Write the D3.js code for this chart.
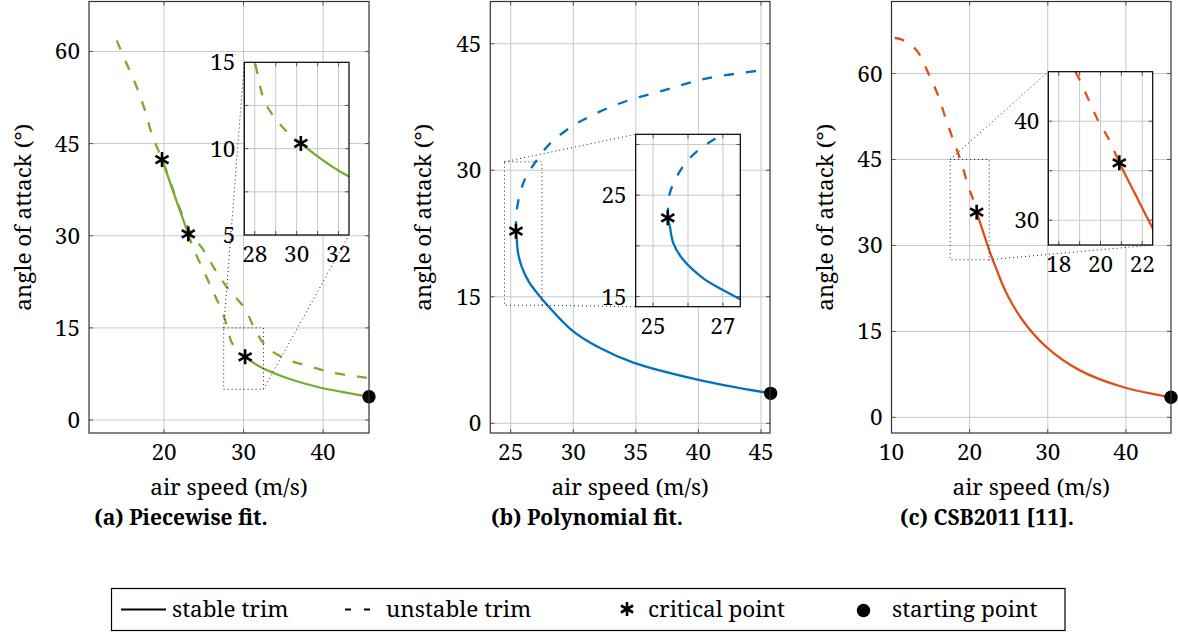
<!DOCTYPE html>
<html>
<head>
<meta charset="utf-8">
<script src="https://cdn.jsdelivr.net/npm/d3@7"></script>
<style>
  body { margin: 0; background: #fff; }
</style>
</head>
<body>
<div id="chart"></div>
<script>
// ---- data (air speed m/s, angle of attack deg) ----
var aUnstableHigh = [[14.05,61.8],[15.3,58.0],[16.57,54.2],[17.6,50.4],[18.45,46.6],[19.08,44.5],[19.75,42.5],[21.0,38.0],[22.0,34.4],[23.3,30.6],[24.95,27.7],[26.6,24.1],[28.1,21.3],[30.2,18.1],[31.3,15.1],[32.9,11.9],[35.4,9.9],[38.4,8.7],[41.3,7.7],[44.4,7.05],[45.5,6.85]];
var aStableHigh = [[19.75,42.4],[21.4,36.3],[23.05,30.3]];
var aUnstableMid = [[23.05,30.3],[23.7,27.9],[24.95,24.4],[26.2,20.8],[27.2,18.0],[28.0,15.0],[28.48,12.7],[29.11,11.56],[29.6,10.9],[30.2,10.3]];
var aStableLow = [[30.2,10.3],[32.07,8.67],[35.0,7.05],[39.2,5.42],[43.4,4.34],[45.77,3.8]];
var aCritical = [[19.75,42.4],[23.05,30.3],[30.2,10.3]];
var aStart = [[45.77,3.8]];

var bStable = [[25.42,22.77],[25.48,21.9],[25.58,20.25],[25.87,18.6],[26.44,16.8],[27.0,15.65],[27.5,14.73],[30.0,10.9],[32.1,8.95],[34.8,7.2],[40.1,5.13],[45.77,3.55]];
var bUnstable = [[25.42,22.77],[25.48,25.2],[25.82,27.65],[26.25,29.3],[26.96,30.93],[28.1,33.1],[29.9,35.2],[31.5,36.5],[33.3,37.7],[35.1,38.6],[37.1,39.4],[38.9,40.2],[40.7,40.9],[44.8,41.8]];
var bCritical = [[25.42,22.77]];
var bStart = [[45.77,3.55]];

var cUnstable = [[10.4,66.2],[11.2,66.0],[12.3,65.1],[13.3,63.9],[14.7,60.1],[16.0,56.05],[16.9,52.3],[17.9,48.4],[18.9,44.6],[19.88,40.1],[20.37,38.3],[20.9,35.8]];
var cStable = [[20.9,35.8],[21.6,32.9],[22.5,29.2],[23.5,25.6],[24.7,21.7],[26.8,16.9],[29.8,12.3],[34.1,8.2],[39.6,5.3],[45.77,3.5]];
var cCritical = [[20.9,35.8]];
var cStart = [[45.77,3.5]];

var captions = ["(a) Piecewise fit.", "(b) Polynomial fit.", "(c) CSB2011 [11]."];
var legendLabels = ["stable trim", "unstable trim", "critical point", "starting point"];

var green = "#77ac30", blue = "#0072bd", orange = "#d95319";
var FONT = "'Noto Serif', 'DejaVu Serif', serif";

var svg = d3.select("#chart").append("svg")
    .attr("width", 1178).attr("height", 634);

function font(sel, size) {
  return sel.style("font-family", FONT).style("font-size", size + "px").attr("fill", "#000");
}

var clipId = 0;

function asterisk(g, x, y, r) {
  [90, 30, 150].forEach(function(a) {
    var t = a * Math.PI / 180;
    g.append("line")
      .attr("x1", x - r * Math.cos(t)).attr("y1", y - r * Math.sin(t))
      .attr("x2", x + r * Math.cos(t)).attr("y2", y + r * Math.sin(t))
      .attr("stroke", "#000").attr("stroke-width", 2.6);
  });
}

// one axes box: grid, curves, markers, frame, tick labels
function drawAxes(cfg) {
  var g = svg.append("g");
  var x = d3.scaleLinear().domain(cfg.xDomain).range([cfg.left, cfg.right]);
  var y = d3.scaleLinear().domain(cfg.yDomain).range([cfg.bottom, cfg.top]);

  if (cfg.inset) {
    g.append("rect").attr("x", cfg.left).attr("y", cfg.top)
      .attr("width", cfg.right - cfg.left).attr("height", cfg.bottom - cfg.top)
      .attr("fill", "#fff");
  }

  g.selectAll(".vg").data(cfg.xGrid).enter().append("line")
    .attr("x1", x).attr("x2", x).attr("y1", cfg.top).attr("y2", cfg.bottom)
    .attr("stroke", "#c8c8c8").attr("stroke-width", 1);
  g.selectAll(".hg").data(cfg.yGrid).enter().append("line")
    .attr("y1", y).attr("y2", y).attr("x1", cfg.left).attr("x2", cfg.right)
    .attr("stroke", "#c8c8c8").attr("stroke-width", 1);

  // small inner ticks on all sides
  var tl = 4, tc = "#555";
  cfg.xGrid.forEach(function(v) {
    g.append("line").attr("x1", x(v)).attr("x2", x(v)).attr("y1", cfg.bottom).attr("y2", cfg.bottom - tl).attr("stroke", tc);
    g.append("line").attr("x1", x(v)).attr("x2", x(v)).attr("y1", cfg.top).attr("y2", cfg.top + tl).attr("stroke", tc);
  });
  cfg.yGrid.forEach(function(v) {
    g.append("line").attr("y1", y(v)).attr("y2", y(v)).attr("x1", cfg.left).attr("x2", cfg.left + tl).attr("stroke", tc);
    g.append("line").attr("y1", y(v)).attr("y2", y(v)).attr("x1", cfg.right).attr("x2", cfg.right - tl).attr("stroke", tc);
  });

  var id = "clip" + (clipId++);
  svg.append("clipPath").attr("id", id).append("rect")
    .attr("x", cfg.left).attr("y", cfg.top)
    .attr("width", cfg.right - cfg.left).attr("height", cfg.bottom - cfg.top);

  var line = d3.line().x(function(d) { return x(d[0]); }).y(function(d) { return y(d[1]); })
    .curve(d3.curveCatmullRom.alpha(0.5));
  var lines = g.append("g").attr("clip-path", "url(#" + id + ")");
  cfg.series.forEach(function(s) {
    lines.append("path").datum(s.data).attr("d", line)
      .attr("fill", "none").attr("stroke", cfg.color).attr("stroke-width", 2.3)
      .attr("stroke-dasharray", s.dashed ? "10,12" : null);
  });

  var marks = g.append("g").attr("clip-path", cfg.inset ? "url(#" + id + ")" : null);
  cfg.critical.forEach(function(d) { asterisk(marks, x(d[0]), y(d[1]), 7.5); });
  if (cfg.start) {
    cfg.start.forEach(function(d) {
      marks.append("circle").attr("cx", x(d[0])).attr("cy", y(d[1])).attr("r", 6.7).attr("fill", "#000");
    });
  }

  g.append("rect").attr("x", cfg.left).attr("y", cfg.top)
    .attr("width", cfg.right - cfg.left).attr("height", cfg.bottom - cfg.top)
    .attr("fill", "none").attr("stroke", cfg.inset ? "#000" : "#333").attr("stroke-width", 1.2);

  font(g.selectAll(".xl").data(cfg.xTicks).enter().append("text")
    .attr("x", x).attr("y", cfg.bottom + 27)
    .attr("text-anchor", "middle"), 22.5)
    .text(function(d) { return d; });
  font(g.selectAll(".yl").data(cfg.yTicks).enter().append("text")
    .attr("x", cfg.left - 9).attr("y", function(d) { return y(d) + 8; })
    .attr("text-anchor", "end"), 22.5)
    .text(function(d) { return d; });

  if (!cfg.inset) {
    font(g.append("text").attr("x", (cfg.left + cfg.right) / 2).attr("y", 495)
      .attr("text-anchor", "middle"), 22.5)
      .text("air speed (m/s)");
    font(g.append("text")
      .attr("transform", "translate(" + cfg.ylabelX + "," + ((cfg.top + cfg.bottom) / 2) + ") rotate(-90)")
      .attr("text-anchor", "middle"), 22.5)
      .text("angle of attack (°)");
  }
  return { x: x, y: y };
}

function spy(main, zoom, rect, corners) {
  var x0 = main.x(rect[0]), x1 = main.x(rect[1]);
  var y0 = main.y(rect[3]), y1 = main.y(rect[2]);
  svg.append("rect").attr("x", x0).attr("y", y0).attr("width", x1 - x0).attr("height", y1 - y0)
    .attr("fill", "none").attr("stroke", "#222").attr("stroke-width", 1).attr("stroke-dasharray", "1,3");
  var zx0 = zoom.left, zx1 = zoom.right, zy0 = zoom.top, zy1 = zoom.bottom;
  svg.append("line").attr("x1", x0).attr("y1", y0).attr("x2", zx0).attr("y2", zy0)
    .attr("stroke", "#222").attr("stroke-dasharray", "1,3");
  svg.append("line").attr("x1", x1).attr("y1", y1).attr("x2", corners === "bl" ? zx0 : zx1).attr("y2", zy1)
    .attr("stroke", "#222").attr("stroke-dasharray", "1,3");
}

// ---- panel (a) ----
var aMain = { left: 89, right: 369, top: 1.5, bottom: 433, xDomain: [10.57, 45.77], yDomain: [-2.11, 68.13],
  xTicks: [20, 30, 40], yTicks: [0, 15, 30, 45, 60], xGrid: [20, 30, 40], yGrid: [0, 15, 30, 45, 60],
  color: green, ylabelX: 31,
  series: [{ data: aUnstableHigh, dashed: true }, { data: aStableHigh }, { data: aUnstableMid, dashed: true }, { data: aStableLow }],
  critical: aCritical, start: aStart };
var aInset = { inset: true, left: 244.3, right: 349, top: 62.3, bottom: 235, xDomain: [27.5, 32.5], yDomain: [5, 15],
  xTicks: [28, 30, 32], yTicks: [5, 10, 15], xGrid: [28, 29, 30, 31, 32], yGrid: [7.5, 10, 12.5],
  color: green, series: [{ data: aUnstableMid, dashed: true }, { data: aStableLow }], critical: aCritical };

// ---- panel (b) ----
var bMain = { left: 490.3, right: 770, top: 1.5, bottom: 433, xDomain: [23.37, 45.72], yDomain: [-1.15, 50],
  xTicks: [25, 30, 35, 40, 45], yTicks: [0, 15, 30, 45], xGrid: [25, 30, 35, 40, 45], yGrid: [0, 15, 30, 45],
  color: blue, ylabelX: 431,
  series: [{ data: bUnstable, dashed: true }, { data: bStable }], critical: bCritical, start: bStart };
var bInset = { inset: true, left: 635.7, right: 740.3, top: 134.3, bottom: 306.7, xDomain: [24.5, 27.5], yDomain: [14, 31],
  xTicks: [25, 27], yTicks: [15, 25], xGrid: [25, 26, 27], yGrid: [15, 20, 25, 30],
  color: blue, series: [{ data: bUnstable, dashed: true }, { data: bStable }], critical: bCritical };

// ---- panel (c) ----
var cMain = { left: 891.5, right: 1171, top: 1.5, bottom: 433, xDomain: [10, 45.77], yDomain: [-2.73, 72.57],
  xTicks: [10, 20, 30, 40], yTicks: [0, 15, 30, 45, 60], xGrid: [10, 20, 30, 40], yGrid: [0, 15, 30, 45, 60],
  color: orange, ylabelX: 833,
  series: [{ data: cUnstable, dashed: true }, { data: cStable }], critical: cCritical, start: cStart };
var cInset = { inset: true, left: 1048.3, right: 1152.7, top: 71.7, bottom: 245, xDomain: [17.5, 22.5], yDomain: [27.5, 45],
  xTicks: [18, 20, 22], yTicks: [30, 40], xGrid: [18, 19, 20, 21, 22], yGrid: [30, 35, 40],
  color: orange, series: [{ data: cUnstable, dashed: true }, { data: cStable }], critical: cCritical };

var am = drawAxes(aMain);
spy(am, aInset, [27.5, 32.5, 5, 15], "br");
drawAxes(aInset);

var bm = drawAxes(bMain);
spy(bm, bInset, [24.5, 27.5, 14, 31], "bl");
drawAxes(bInset);

var cm = drawAxes(cMain);
spy(cm, cInset, [17.5, 22.5, 27.5, 45], "br");
drawAxes(cInset);

// ---- captions ----
font(svg.selectAll(".cap").data(captions).enter().append("text")
  .attr("x", function(d, i) { return [181, 587, 987][i]; }).attr("y", 525)
  .attr("text-anchor", "middle"), 21).style("font-weight", "bold")
  .text(function(d) { return d; });

// ---- legend ----
var lg = svg.append("g");
lg.append("rect").attr("x", 111.5).attr("y", 588.5).attr("width", 953.5).attr("height", 42)
  .attr("fill", "#fff").attr("stroke", "#000").attr("stroke-width", 1.2);
lg.append("line").attr("x1", 121).attr("x2", 166).attr("y1", 609.5).attr("y2", 609.5).attr("stroke", "#000").attr("stroke-width", 2.2);
lg.append("line").attr("x1", 345).attr("x2", 370).attr("y1", 609.5).attr("y2", 609.5).attr("stroke", "#000").attr("stroke-width", 2.2).attr("stroke-dasharray", "6,13");
asterisk(lg, 627, 609, 7);
lg.append("circle").attr("cx", 863.5).attr("cy", 610.5).attr("r", 6.7).attr("fill", "#000");
font(lg.selectAll(".lt").data(legendLabels).enter().append("text")
  .attr("x", function(d, i) { return [172, 386, 648, 892][i]; }).attr("y", 617), 22.5)
  .text(function(d) { return d; });
</script>
</body>
</html>
